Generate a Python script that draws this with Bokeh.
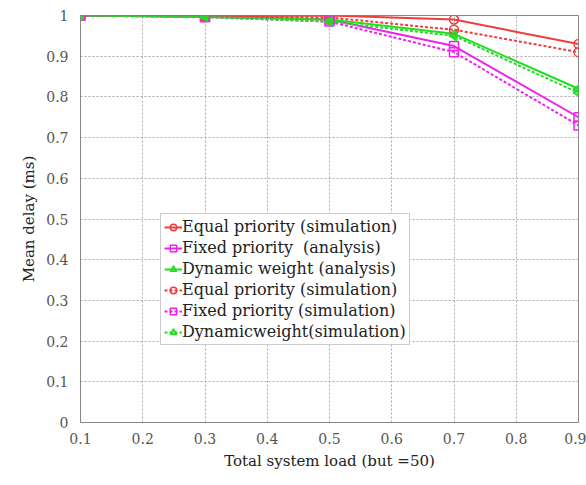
import math
from bokeh.plotting import figure
from bokeh.models import Legend, LegendItem, FixedTicker
from bokeh.embed import file_html
from bokeh.resources import INLINE

loads = [0.1, 0.3, 0.5, 0.7, 0.9]
equal_analysis = [1.0, 0.998, 1.0, 0.99, 0.93]
fixed_analysis = [1.0, 0.997, 0.99, 0.925, 0.75]
dynamic_analysis = [1.0, 0.997, 0.99, 0.955, 0.82]
equal_sim = [1.0, 0.998, 0.995, 0.965, 0.91]
fixed_sim = [1.0, 0.996, 0.985, 0.91, 0.73]
dynamic_sim = [1.0, 0.996, 0.985, 0.95, 0.81]

labels = ["Equal priority (simulation)", "Fixed priority  (analysis)", "Dynamic weight (analysis)",
          "Equal priority (simulation)", "Fixed priority (simulation)", "Dynamicweight(simulation)"]
x_ticks = [0.1, 0.2, 0.3, 0.4, 0.5, 0.6, 0.7, 0.8, 0.9]
y_ticks = [0, 0.1, 0.2, 0.3, 0.4, 0.5, 0.6, 0.7, 0.8, 0.9, 1.0]

RED = "#f03c3c"
MAG = "#f020f0"
GRN = "#22dd22"
FONT = "DejaVu Serif"

p = figure(width=586, height=485, output_backend="svg", toolbar_location=None,
           x_range=(0.1, 0.9), y_range=(0, 1.0),
           min_border_left=80, min_border_right=8, min_border_top=15, min_border_bottom=63)
p.outline_line_color = "#888888"
p.outline_line_width = 1
p.background_fill_color = "white"
p.border_fill_color = "white"

for ax in (p.xaxis[0], p.yaxis[0]):
    ax.major_label_text_font = FONT
    ax.major_label_text_font_size = "14px"
    ax.major_label_text_color = "#555555"
    ax.axis_label_text_font = FONT
    ax.axis_label_text_font_size = "15px"
    ax.axis_label_text_font_style = "normal"
    ax.axis_label_text_color = "#222222"
    ax.axis_line_color = "#888888"
    ax.major_tick_line_color = None
    ax.minor_tick_line_color = None

p.xaxis.ticker = FixedTicker(ticks=x_ticks)
p.yaxis.ticker = FixedTicker(ticks=y_ticks)
p.yaxis.major_label_overrides = {0: "0", 1.0: "1"}
p.xaxis.axis_label = "Total system load (but =50)"
p.yaxis.axis_label = "Mean delay (ms)"
p.xaxis.major_label_standoff = 4
p.yaxis.major_label_standoff = 6

p.grid.grid_line_color = "#aaaaaa"
p.grid.grid_line_dash = "2 2"
p.grid.grid_line_width = 1

series = [
    (equal_analysis, RED, "solid", "circle", 0),
    (fixed_analysis, MAG, "solid", "square", 0),
    (dynamic_analysis, GRN, "solid", "triangle", math.pi / 2),
    (equal_sim, RED, "3 2", "circle", 0),
    (fixed_sim, MAG, "3 2", "square", 0),
    (dynamic_sim, GRN, "3 2", "triangle", math.pi / 2),
]

items = []
for (vals, col, dash, mk, ang), lab in zip(series, labels):
    l = p.line(loads, vals, line_color=col, line_width=2, line_dash=dash)
    s = p.scatter(loads, vals, marker=mk, angle=ang, size=9, line_color=col,
                  fill_color=col if mk == "triangle" else None, fill_alpha=0.6, line_width=1.5)
    items.append(LegendItem(label=lab, renderers=[l, s]))

leg = Legend(items=items, location=(80, 77))
leg.label_text_font = FONT
leg.label_text_font_size = "16px"
leg.label_text_color = "#222222"
leg.border_line_color = "#999999"
leg.background_fill_alpha = 1.0
leg.glyph_width = 18
leg.glyph_height = 16
leg.label_height = 16
leg.spacing = 2
leg.padding = 3
leg.margin = 0
leg.label_standoff = 0
p.add_layout(leg, "center")

open("out.html", "w").write(file_html(p, INLINE))
